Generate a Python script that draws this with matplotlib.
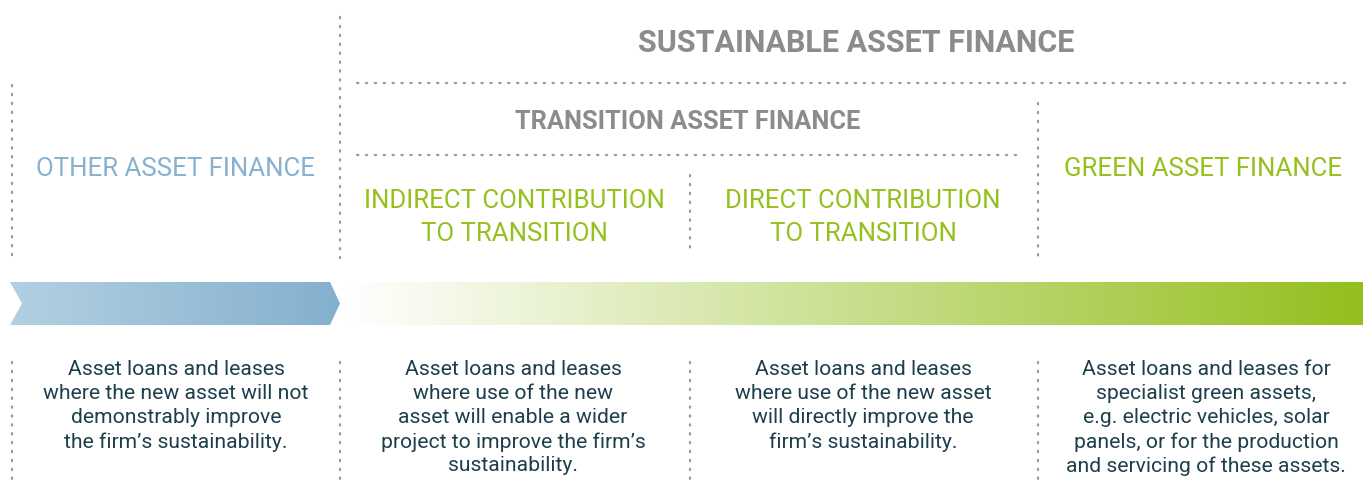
import numpy as np
import matplotlib.pyplot as plt
from matplotlib.patches import Polygon
from matplotlib.colors import LinearSegmentedColormap

# text content
top_title = "SUSTAINABLE ASSET FINANCE"
mid_title = "TRANSITION ASSET FINANCE"
headers = ["OTHER ASSET FINANCE",
           "INDIRECT CONTRIBUTION\nTO TRANSITION",
           "DIRECT CONTRIBUTION\nTO TRANSITION",
           "GREEN ASSET FINANCE"]
descriptions = [
    "Asset loans and leases\nwhere the new asset will not\ndemonstrably improve\nthe firm\u2019s sustainability.",
    "Asset loans and leases\nwhere use of the new\nasset will enable a wider\nproject to improve the firm\u2019s\nsustainability.",
    "Asset loans and leases\nwhere use of the new asset\nwill directly improve the\nfirm\u2019s sustainability.",
    "Asset loans and leases for\nspecialist green assets,\ne.g. electric vehicles, solar\npanels, or for the production\nand servicing of these assets.",
]
col_centers = [176, 513, 863, 1206]
header_x = [175, 514, 863, 1203]
header_y = [169, 217.5, 217.5, 169]

GREY = "#8c8c8c"
DOT = "#9a9a9a"
BLUE = "#86b2cf"
GREEN = "#95c11f"
DARK = "#1d3f4c"

plt.rcParams['font.family'] = ['Roboto', 'DejaVu Sans']

fig = plt.figure(figsize=(13.63, 4.86), dpi=100)
ax = fig.add_axes([0, 0, 1, 1])
ax.set_xlim(0, 1363)
ax.set_ylim(486, 0)
ax.axis('off')

dot_kw = dict(color=DOT, lw=1.6, linestyle=(0, (0.6, 3.4)), dash_capstyle='round')

# vertical dotted separators (top part)
for x, y0, y1 in [(12, 85, 258), (340, 17, 258), (690, 175, 248), (1038, 103, 258)]:
    ax.plot([x, x], [y0, y1], **dot_kw)
# vertical dotted separators (bottom part)
for x in [12, 340, 690, 1038]:
    ax.plot([x, x], [362, 486], **dot_kw)
# horizontal dotted lines
ax.plot([357, 1352], [83, 83], **dot_kw)
ax.plot([357, 1022], [155, 155], **dot_kw)

# titles
ax.text(856, 43, top_title, ha='center', va='center', fontsize=22,
        fontweight='bold', color=GREY)
ax.text(688, 122, mid_title, ha='center', va='center', fontsize=18.3,
        fontweight='bold', color=GREY)

for i, (h, x, y) in enumerate(zip(headers, header_x, header_y)):
    col = BLUE if i == 0 else GREEN
    ax.text(x, y, h, ha='center', va='center', fontsize=18.6, color=col,
            linespacing=1.45)

for d, x in zip(descriptions, col_centers):
    ax.text(x, 360, d, ha='center', va='top', fontsize=15.2, color=DARK,
            linespacing=1.33)

# blue chevron with gradient
blue_cmap = LinearSegmentedColormap.from_list('b', ['#b3d0e2', '#84b0ce'])
grad = np.linspace(0, 1, 256).reshape(1, -1)
chev = Polygon([(10, 282), (330, 282), (340, 303.5), (330, 325), (10, 325), (22, 303.5)],
               closed=True, facecolor='none', edgecolor='none')
ax.add_patch(chev)
im = ax.imshow(grad, cmap=blue_cmap, extent=(10, 340, 325, 282), aspect='auto')
im.set_clip_path(chev)

# green bar fading in from white
green_cmap = LinearSegmentedColormap.from_list('g', ['#ffffff', '#93bf1e'])
bar = Polygon([(340, 282), (1363, 282), (1363, 325), (340, 325), (350, 303.5)],
              closed=True, facecolor='none', edgecolor='none')
ax.add_patch(bar)
im2 = ax.imshow(grad, cmap=green_cmap, extent=(345, 1363, 325, 282), aspect='auto')
im2.set_clip_path(bar)

ax.set_xlim(0, 1363)
ax.set_ylim(486, 0)

fig.savefig('out.png', dpi=100)
